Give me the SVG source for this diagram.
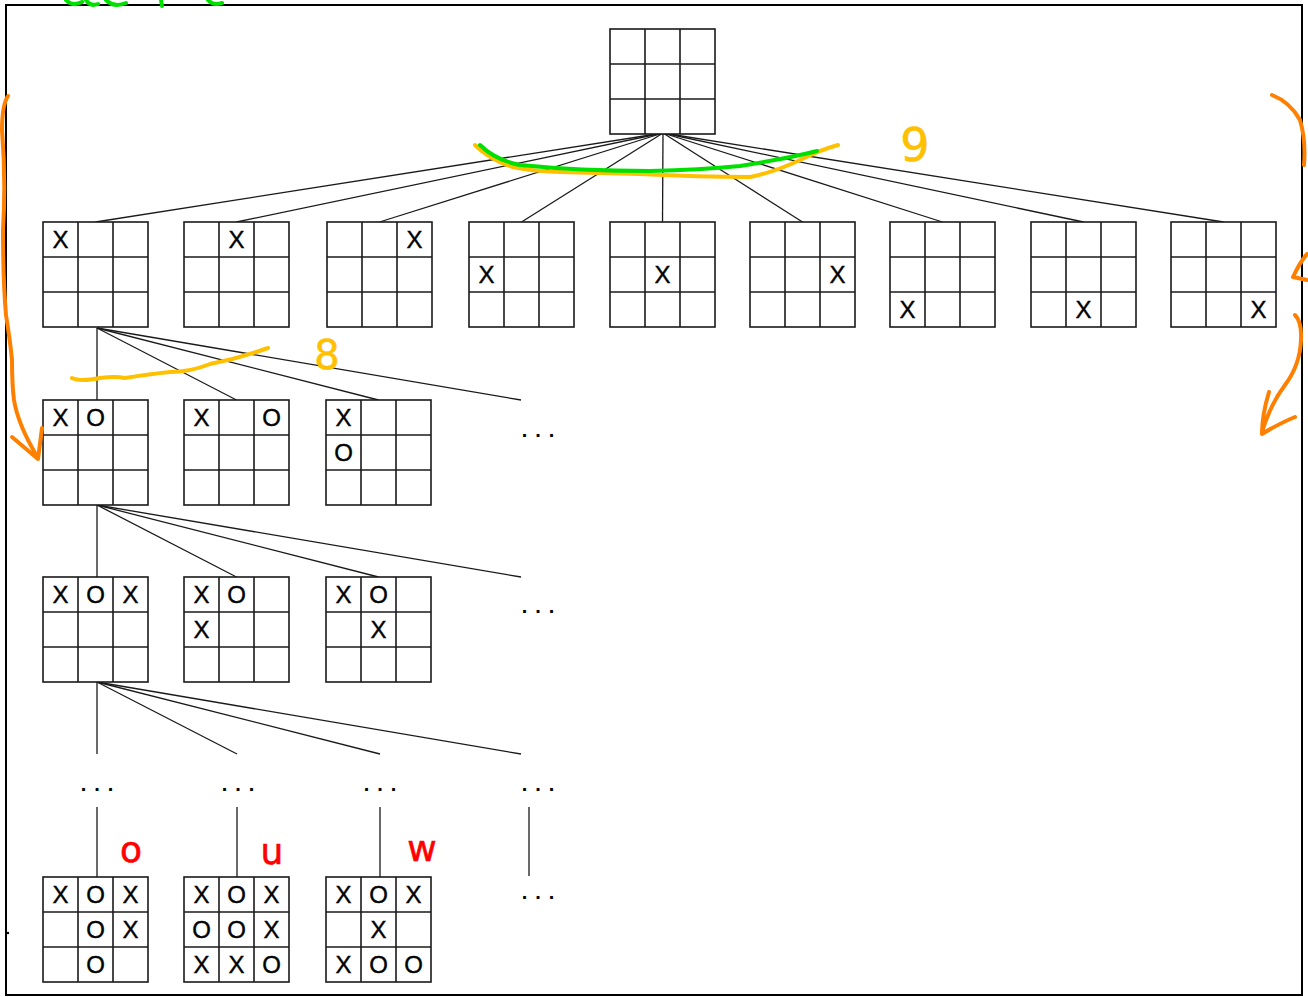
<svg xmlns="http://www.w3.org/2000/svg" xmlns:xlink="http://www.w3.org/1999/xlink" width="1308" height="997" viewBox="0 0 1308 997">
<style>
.frame{fill:#fff;stroke:#000;stroke-width:2}
.grid rect{fill:#fff;stroke:#1a1a1a;stroke-width:1.6}
.grid line{stroke:#1a1a1a;stroke-width:1.6}
.m{font-family:"Liberation Sans","DejaVu Sans",sans-serif;font-size:24px;fill:#000;stroke:#000;stroke-width:0.4;text-anchor:middle}
.dots{font-family:"Liberation Sans","DejaVu Sans",sans-serif;font-size:20px;font-weight:bold;fill:#000;text-anchor:middle;letter-spacing:8px}
.conn line{stroke:#1a1a1a;stroke-width:1.3}
.pen{fill:none;stroke-linecap:round;stroke-linejoin:round}
.yel{stroke:#FFC000;stroke-width:4}
.org{stroke:#FF7F00;stroke-width:4}
.grn{stroke:#00E000;stroke-width:4}
.hand{font-family:"DejaVu Sans","Liberation Sans",sans-serif;text-anchor:middle;stroke-width:0.6}
</style>
<defs>
<g id="grid" class="grid">
<rect x="0" y="0" width="105" height="105"/>
<line x1="35" y1="0" x2="35" y2="105"/>
<line x1="70" y1="0" x2="70" y2="105"/>
<line x1="0" y1="35" x2="105" y2="35"/>
<line x1="0" y1="70" x2="105" y2="70"/>
</g>
</defs>
<rect class="frame" x="6" y="5" width="1296" height="990"/>

<g id="connectors" class="conn">
<line x1="663" y1="133" x2="95.5" y2="222"/>
<line x1="663" y1="133" x2="236.5" y2="222"/>
<line x1="663" y1="133" x2="379.5" y2="222"/>
<line x1="663" y1="133" x2="521.5" y2="222"/>
<line x1="663" y1="133" x2="662.5" y2="222"/>
<line x1="663" y1="133" x2="802.5" y2="222"/>
<line x1="663" y1="133" x2="942.5" y2="222"/>
<line x1="663" y1="133" x2="1083.5" y2="222"/>
<line x1="663" y1="133" x2="1223.5" y2="222"/>
<line x1="97" y1="328" x2="97" y2="400"/>
<line x1="97" y1="328" x2="236.5" y2="400"/>
<line x1="97" y1="328" x2="378.5" y2="400"/>
<line x1="97" y1="328" x2="521" y2="400"/>
<line x1="97" y1="505" x2="97" y2="577"/>
<line x1="97" y1="505" x2="236.5" y2="577"/>
<line x1="97" y1="505" x2="378.5" y2="577"/>
<line x1="97" y1="505" x2="521" y2="577"/>
<line x1="97" y1="682" x2="97" y2="754"/>
<line x1="97" y1="682" x2="237" y2="754"/>
<line x1="97" y1="682" x2="380" y2="754"/>
<line x1="97" y1="682" x2="521" y2="754"/>
<line x1="97" y1="807" x2="97" y2="877"/>
<line x1="237" y1="807" x2="237" y2="877"/>
<line x1="380" y1="807" x2="380" y2="877"/>
<line x1="529" y1="807" x2="529" y2="876"/>
</g>

<g id="root"><use xlink:href="#grid" x="610" y="29"/></g>

<g id="l1-1"><use xlink:href="#grid" x="43" y="222"/><text class="m" x="60.5" y="248">X</text></g>
<g id="l1-2"><use xlink:href="#grid" x="184" y="222"/><text class="m" x="236.5" y="248">X</text></g>
<g id="l1-3"><use xlink:href="#grid" x="327" y="222"/><text class="m" x="414.5" y="248">X</text></g>
<g id="l1-4"><use xlink:href="#grid" x="469" y="222"/><text class="m" x="486.5" y="283">X</text></g>
<g id="l1-5"><use xlink:href="#grid" x="610" y="222"/><text class="m" x="662.5" y="283">X</text></g>
<g id="l1-6"><use xlink:href="#grid" x="750" y="222"/><text class="m" x="837.5" y="283">X</text></g>
<g id="l1-7"><use xlink:href="#grid" x="890" y="222"/><text class="m" x="907.5" y="318">X</text></g>
<g id="l1-8"><use xlink:href="#grid" x="1031" y="222"/><text class="m" x="1083.5" y="318">X</text></g>
<g id="l1-9"><use xlink:href="#grid" x="1171" y="222"/><text class="m" x="1258.5" y="318">X</text></g>

<g id="l2-1"><use xlink:href="#grid" x="43" y="400"/><text class="m" x="60.5" y="426">X</text><text class="m" x="95.5" y="426">O</text></g>
<g id="l2-2"><use xlink:href="#grid" x="184" y="400"/><text class="m" x="201.5" y="426">X</text><text class="m" x="271.5" y="426">O</text></g>
<g id="l2-3"><use xlink:href="#grid" x="326" y="400"/><text class="m" x="343.5" y="426">X</text><text class="m" x="343.5" y="461">O</text></g>
<g id="l2-more"><text class="dots" x="542" y="437">...</text></g>

<g id="l3-1"><use xlink:href="#grid" x="43" y="577"/><text class="m" x="60.5" y="603">X</text><text class="m" x="95.5" y="603">O</text><text class="m" x="130.5" y="603">X</text></g>
<g id="l3-2"><use xlink:href="#grid" x="184" y="577"/><text class="m" x="201.5" y="603">X</text><text class="m" x="236.5" y="603">O</text><text class="m" x="201.5" y="638">X</text></g>
<g id="l3-3"><use xlink:href="#grid" x="326" y="577"/><text class="m" x="343.5" y="603">X</text><text class="m" x="378.5" y="603">O</text><text class="m" x="378.5" y="638">X</text></g>
<g id="l3-more"><text class="dots" x="542" y="613">...</text></g>

<g id="l4-1"><text class="dots" x="101" y="791">...</text></g>
<g id="l4-2"><text class="dots" x="242" y="791">...</text></g>
<g id="l4-3"><text class="dots" x="384" y="791">...</text></g>
<g id="l4-4"><text class="dots" x="542" y="791">...</text></g>

<g id="l5-1"><use xlink:href="#grid" x="43" y="877"/>
<text class="m" x="60.5" y="903">X</text><text class="m" x="95.5" y="903">O</text><text class="m" x="130.5" y="903">X</text>
<text class="m" x="95.5" y="938">O</text><text class="m" x="130.5" y="938">X</text>
<text class="m" x="95.5" y="973">O</text></g>
<g id="l5-2"><use xlink:href="#grid" x="184" y="877"/>
<text class="m" x="201.5" y="903">X</text><text class="m" x="236.5" y="903">O</text><text class="m" x="271.5" y="903">X</text>
<text class="m" x="201.5" y="938">O</text><text class="m" x="236.5" y="938">O</text><text class="m" x="271.5" y="938">X</text>
<text class="m" x="201.5" y="973">X</text><text class="m" x="236.5" y="973">X</text><text class="m" x="271.5" y="973">O</text></g>
<g id="l5-3"><use xlink:href="#grid" x="326" y="877"/>
<text class="m" x="343.5" y="903">X</text><text class="m" x="378.5" y="903">O</text><text class="m" x="413.5" y="903">X</text>
<text class="m" x="378.5" y="938">X</text>
<text class="m" x="343.5" y="973">X</text><text class="m" x="378.5" y="973">O</text><text class="m" x="413.5" y="973">O</text></g>
<g id="l5-more"><text class="dots" x="542" y="899">...</text></g>

<circle cx="8" cy="933" r="1.2" fill="#000"/>

<g id="annotations">
<path class="pen grn" d="M66,0 Q72,7 82,2 M86,0 Q90,7 98,4 M106,0 Q114,8 126,3 M161,0 L162,6 M208,0 Q213,6 222,3"/>
<path class="pen org" d="M8,96 Q2,105 2,130 Q6,180 3,230 Q3,280 6,315 Q10,340 12,360 Q12,385 14,400 Q18,425 38,458"/>
<path class="pen org" d="M12,437 L38,459 L42,428"/>
<path class="pen org" d="M1272,95 Q1290,102 1300,120 Q1306,140 1304,165"/>
<path class="pen org" d="M1307,254 Q1300,262 1293,277 L1307,280"/>
<path class="pen org" d="M1295,315 Q1302,322 1301,340 Q1300,365 1285,385 Q1270,405 1262,432"/>
<path class="pen org" d="M1269,392 Q1262,415 1262,434 Q1280,423 1295,417"/>
<path class="pen yel" d="M475,145 Q490,160 513,167 Q530,171 560,172 Q600,173 640,174 Q700,177 750,177 Q775,172 800,160 Q820,150 838,145"/>
<path class="pen grn" d="M480,145 Q495,160 520,165 Q580,171 650,171 Q700,170 740,166 Q790,158 817,151"/>
<path class="pen yel" d="M72,378 Q80,382 100,378 Q115,376 125,378 Q150,374 170,372 Q190,372 210,364 Q240,358 268,348"/>
<text class="hand" x="915" y="161" font-size="46" fill="#FFC000" stroke="#FFC000">9</text>
<text class="hand" x="327" y="369" font-size="40" fill="#FFC000" stroke="#FFC000">8</text>
<text class="hand" x="131" y="862" font-size="36" fill="#FF0000" stroke="#FF0000">o</text>
<text class="hand" x="272" y="864" font-size="36" fill="#FF0000" stroke="#FF0000">u</text>
<text class="hand" x="422" y="861" font-size="36" fill="#FF0000" stroke="#FF0000">w</text>
</g>
</svg>
